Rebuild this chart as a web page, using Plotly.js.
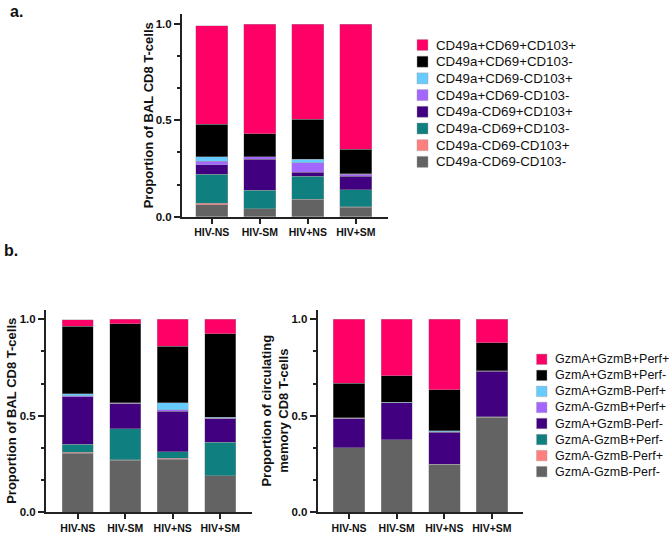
<!DOCTYPE html>
<html>
<head>
<meta charset="utf-8">
<script src="https://cdn.plot.ly/plotly-3.0.1.min.js"></script>
<style>html,body{margin:0;padding:0;background:#fff;}#chart{width:669px;height:535px;}</style>
</head>
<body>
<div id="chart"></div>
<script>
// Categories
var groups = ['HIV-NS', 'HIV-SM', 'HIV+NS', 'HIV+SM'];

// Panel a: CD49a/CD69/CD103 subsets (stack order bottom -> top)
var cdNames = ['CD49a-CD69-CD103-', 'CD49a-CD69-CD103+', 'CD49a-CD69+CD103-', 'CD49a-CD69+CD103+',
               'CD49a+CD69-CD103-', 'CD49a+CD69-CD103+', 'CD49a+CD69+CD103-', 'CD49a+CD69+CD103+'];
var cd_nnn = [0.061, 0.040, 0.090, 0.050];
var cd_nnp = [0.010, 0.002, 0.001, 0.001];
var cd_npn = [0.150, 0.096, 0.120, 0.088];
var cd_npp = [0.049, 0.161, 0.019, 0.071];
var cd_pnn = [0.019, 0.012, 0.049, 0.011];
var cd_pnp = [0.021, 0.001, 0.020, 0.001];
var cd_ppn = [0.169, 0.118, 0.208, 0.129];
var cd_ppp = [0.511, 0.570, 0.493, 0.649];

// Panel b: GzmA/GzmB/Perforin subsets (stack order bottom -> top)
var gzNames = ['GzmA-GzmB-Perf-', 'GzmA-GzmB-Perf+', 'GzmA-GzmB+Perf-', 'GzmA+GzmB-Perf-',
               'GzmA-GzmB+Perf+', 'GzmA+GzmB-Perf+', 'GzmA+GzmB+Perf-', 'GzmA+GzmB+Perf+'];
// BAL
var bal_nnn = [0.304, 0.269, 0.273, 0.188];
var bal_nnp = [0.007, 0.001, 0.007, 0.001];
var bal_npn = [0.041, 0.161, 0.034, 0.174];
var bal_pnn = [0.246, 0.131, 0.208, 0.121];
var bal_npp = [0.006, 0.003, 0.010, 0.002];
var bal_pnp = [0.011, 0.001, 0.036, 0.006];
var bal_ppn = [0.349, 0.412, 0.292, 0.432];
var bal_ppp = [0.033, 0.022, 0.140, 0.076];
// circulating memory
var cir_nnn = [0.333, 0.374, 0.247, 0.493];
var cir_nnp = [0.000, 0.000, 0.000, 0.000];
var cir_npn = [0.001, 0.001, 0.001, 0.001];
var cir_pnn = [0.150, 0.191, 0.167, 0.236];
var cir_npp = [0.002, 0.001, 0.001, 0.002];
var cir_pnp = [0.003, 0.002, 0.006, 0.001];
var cir_ppn = [0.178, 0.137, 0.213, 0.145];
var cir_ppp = [0.333, 0.294, 0.365, 0.122];

var colors = ['#636363', '#FF7F7F', '#107F80', '#400080', '#A366FF', '#66CCFF', '#000000', '#FF0066'];

var FONT = 'Liberation Sans, Arial, sans-serif';
var W = 669, H = 535;
var traces = [];
function addSet(vals, names, xa, ya) {
  for (var i = 0; i < vals.length; i++) {
    traces.push({
      type: 'bar', x: groups, y: vals[i], name: names[i],
      xaxis: xa, yaxis: ya, width: 0.66,
      marker: {color: colors[i], line: {color: 'rgba(160,160,160,0.7)', width: 0.6}},
      showlegend: false, hoverinfo: 'x+y+name'
    });
  }
}
addSet([cd_nnn, cd_nnp, cd_npn, cd_npp, cd_pnn, cd_pnp, cd_ppn, cd_ppp], cdNames, 'x', 'y');
addSet([bal_nnn, bal_nnp, bal_npn, bal_pnn, bal_npp, bal_pnp, bal_ppn, bal_ppp], gzNames, 'x2', 'y2');
addSet([cir_nnn, cir_nnp, cir_npn, cir_pnn, cir_npp, cir_pnp, cir_ppn, cir_ppp], gzNames, 'x3', 'y3');

function xax(domain, range, anchor) {
  return {domain: domain, range: range, anchor: anchor, type: 'category',
    showline: true, linewidth: 2, linecolor: '#222', ticks: 'outside', ticklen: 5, tickwidth: 2, tickcolor: '#222',
    showgrid: false, zeroline: false, fixedrange: true,
    tickfont: {family: FONT, size: 10.5, color: '#111', weight: 'bold'}};
}
function yax(domain, range, anchor) {
  return {domain: domain, range: range, anchor: anchor,
    showline: true, linewidth: 2, linecolor: '#222', ticks: 'outside', ticklen: 6, tickwidth: 2, tickcolor: '#222',
    tickmode: 'array', tickvals: [0, 0.5, 1.0], ticktext: ['0.0', '0.5', '1.0'],
    minor: {tickmode: 'array', tickvals: [1/6, 2/6, 4/6, 5/6], ticks: 'outside', ticklen: 3, tickwidth: 2, tickcolor: '#222', showgrid: false},
    showgrid: false, zeroline: false, fixedrange: true,
    tickfont: {family: FONT, size: 11.5, color: '#111', weight: 'bold'}};
}

// y-axis titles as rotated annotations placed relative to each axis domain
var titleFont = {family: FONT, size: 13, color: '#111', weight: 'bold'};
var annotations = [
  {text: 'Proportion of BAL CD8 T-cells', xref: 'x domain', yref: 'y domain', x: 0, y: 0.5, xshift: -34,
   xanchor: 'center', yanchor: 'middle', textangle: -90, showarrow: false, font: titleFont},
  {text: 'Proportion of BAL CD8 T-cells', xref: 'x2 domain', yref: 'y2 domain', x: 0, y: 0.5, xshift: -34,
   xanchor: 'center', yanchor: 'middle', textangle: -90, showarrow: false, font: titleFont},
  {text: 'Proportion of circulating<br>memory CD8 T-cells', xref: 'x3 domain', yref: 'y3 domain', x: 0, y: 0.5, xshift: -43,
   xanchor: 'center', yanchor: 'middle', textangle: -90, showarrow: false, font: titleFont},
  {text: 'a.', xref: 'paper', yref: 'paper', x: 8/W, y: 1 - 1/H, xanchor: 'left', yanchor: 'top', showarrow: false,
   font: {family: FONT, size: 16, color: '#111', weight: 'bold'}},
  {text: 'b.', xref: 'paper', yref: 'paper', x: 2/W, y: 1 - 240/H, xanchor: 'left', yanchor: 'top', showarrow: false,
   font: {family: FONT, size: 16, color: '#111', weight: 'bold'}}
];
var shapes = [];

// Legends (top entry = top of the stack), drawn as swatch + label
function addLegend(names, x0, y0, step, sw, fontSize) {
  for (var k = 0; k < names.length; k++) {
    var i = names.length - 1 - k;
    var yc = y0 + k * step;
    shapes.push({type: 'rect', xref: 'paper', yref: 'paper',
      x0: x0 / W, x1: (x0 + sw) / W, y0: 1 - (yc + sw / 2) / H, y1: 1 - (yc - sw / 2) / H,
      fillcolor: colors[i], line: {color: 'rgba(160,160,160,0.7)', width: 0.6}});
    annotations.push({text: names[i], xref: 'paper', yref: 'paper', x: (x0 + sw + 6) / W, y: 1 - yc / H,
      xanchor: 'left', yanchor: 'middle', showarrow: false,
      font: {family: FONT, size: fontSize, color: '#111'}});
  }
}
addLegend(cdNames, 417, 45, 16.7, 11, 13.3);
addLegend(gzNames, 536.5, 359.3, 16.05, 10.5, 12.5);

var bDom = [1 - 512 / H, 1 - 309.7 / H];
var layout = {
  width: W, height: H,
  margin: {l: 0, r: 0, t: 0, b: 0},
  paper_bgcolor: '#fff', plot_bgcolor: '#fff',
  barmode: 'stack', bargap: 0.34, showlegend: false,
  font: {family: FONT, color: '#111'},
  xaxis: xax([182 / W, 388 / W], [-0.62, 3.67], 'y'),
  yaxis: yax([1 - 216.7 / H, 1 - 14 / H], [0, 1.052], 'x'),
  xaxis2: xax([46 / W, 252 / W], [-0.67, 3.67], 'y2'),
  yaxis2: yax(bDom, [0, 1.05], 'x2'),
  xaxis3: xax([317.7 / W, 523.3 / W], [-0.66, 3.66], 'y3'),
  yaxis3: yax(bDom, [0, 1.05], 'x3'),
  annotations: annotations,
  shapes: shapes
};

Plotly.newPlot('chart', traces, layout, {displayModeBar: false, staticPlot: true});
</script>
</body>
</html>
